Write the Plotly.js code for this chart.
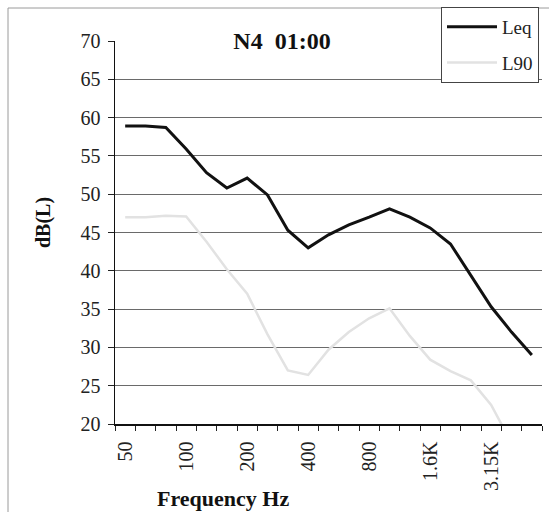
<!DOCTYPE html>
<html>
<head>
<meta charset="utf-8">
<script src="https://cdn.plot.ly/plotly-3.0.1.min.js"></script>
<style>html,body{margin:0;padding:0;background:#fff;}#chart{width:549px;height:512px;}</style>
</head>
<body>
<div id="chart"></div>
<script>
var frequencies = ["50","63","80","100","125","160","200","250","315","400","500","630","800","1K","1.25K","1.6K","2K","2.5K","3.15K","4K","5K"];
var tickLabels = ["50","","","100","","","200","","","400","","","800","","","1.6K","","","3.15K","",""];
var leq = [58.9, 58.9, 58.7, 55.9, 52.8, 50.8, 52.1, 49.9, 45.3, 43.0, 44.7, 46.0, 47.0, 48.1, 47.0, 45.6, 43.5, 39.4, 35.3, 32.0, 29.0];
var l90 = [47.0, 47.0, 47.2, 47.1, 43.8, 40.2, 37.0, 31.7, 27.0, 26.4, 29.7, 32.0, 33.8, 35.1, 31.5, 28.4, 26.9, 25.7, 22.5, 17.5, 15.0];
var yTicks = [20,25,30,35,40,45,50,55,60,65,70];

var serif = '"Liberation Serif", "Times New Roman", serif';

var traces = [
  {x: frequencies, y: leq, name: 'Leq', legendgroup: 'a', type: 'scatter', mode: 'lines',
   line: {color: '#111111', width: 3}},
  {x: frequencies, y: l90, name: 'L90', legendgroup: 'b', type: 'scatter', mode: 'lines',
   line: {color: '#e2e2e2', width: 2.5}}
];

var layout = {
  width: 549, height: 512,
  margin: {l: 115, r: 7, t: 41, b: 88, pad: 0},
  paper_bgcolor: '#ffffff', plot_bgcolor: '#ffffff',
  font: {family: serif, color: '#222222', size: 19},
  showlegend: true,
  title: {text: '<b>N4\u00a0\u00a001:00</b>', x: 282/549, xanchor: 'center', xref: 'container',
          y: 1 - 41/512, yanchor: 'middle', yref: 'container',
          font: {family: serif, size: 24, color: '#111111'}},
  legend: {x: (441-115)/427, y: (424-7)/383, xanchor: 'left', yanchor: 'top',
           bgcolor: '#ffffff', bordercolor: '#444444', borderwidth: 1,
           font: {family: serif, size: 19, color: '#222222'}, tracegroupgap: 8, itemwidth: 50},
  xaxis: {
    type: 'category', categoryorder: 'array', categoryarray: frequencies,
    tickmode: 'array', tickvals: frequencies, ticktext: tickLabels,
    tickson: 'boundaries', ticks: 'outside', ticklen: 5, tickcolor: '#222',
    tickangle: -90, ticklabelstandoff: 8, showgrid: false, showline: true, linecolor: '#111', linewidth: 1.5,
    tickfont: {family: serif, size: 20, color: '#222'}, zeroline: false,
    range: [-0.5, frequencies.length - 0.5]
  },
  yaxis: {
    range: [20, 70], tickmode: 'array', tickvals: yTicks,
    ticks: 'outside', ticklen: 6, tickcolor: '#222', ticklabelstandoff: 3,
    showgrid: true, gridcolor: '#6a6a6a', gridwidth: 1,
    showline: true, linecolor: '#111', linewidth: 1.5, zeroline: false,
    tickfont: {family: serif, size: 20, color: '#222'}
  },
  annotations: [
    {text: '<b>dB(L)</b>', xref: 'paper', yref: 'paper', x: (43-115)/427, y: (424-223)/383,
     xanchor: 'center', yanchor: 'middle', textangle: -90, showarrow: false,
     font: {family: serif, size: 20, color: '#111'}},
    {text: '<b>Frequency Hz</b>', xref: 'paper', yref: 'paper', x: (223-115)/427, y: (424-498)/383,
     xanchor: 'center', yanchor: 'middle', showarrow: false,
     font: {family: serif, size: 22, color: '#111'}}
  ],
  shapes: [
    {type: 'rect', xref: 'paper', yref: 'paper', x0: (8-115)/427, x1: (560-115)/427,
     y0: (424-530)/383, y1: (424-8)/383, line: {color: '#9a9a9a', width: 1}, layer: 'below'}
  ]
};

Plotly.newPlot('chart', traces, layout, {displayModeBar: false, staticPlot: true});
</script>
</body>
</html>
